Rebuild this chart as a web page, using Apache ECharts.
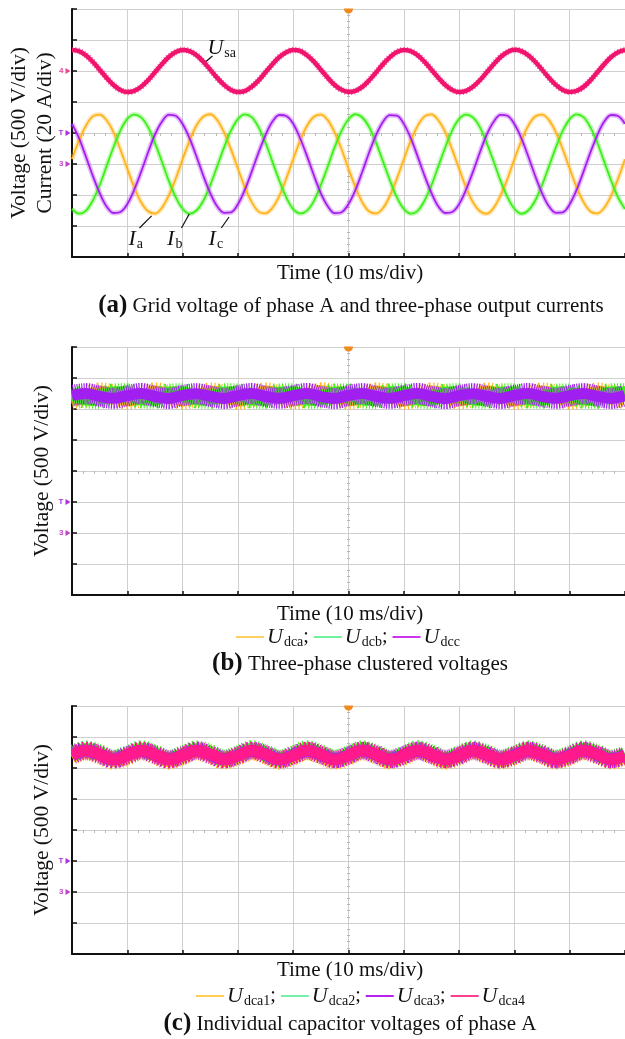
<!DOCTYPE html>
<html>
<head>
<meta charset="utf-8">
<script src="https://cdn.jsdelivr.net/npm/echarts@6/dist/echarts.min.js"></script>
<style>
html, body { margin: 0; padding: 0; background: #fff; }
#main { width: 625px; height: 1039px; }
</style>
</head>
<body>
<div id="main"></div>
<script>
// sample times (ms) for panel (a), 10 ms/div, 10 div on screen
var timesA = [0, 1.25, 2.5, 3.75, 5, 6.25, 7.5, 8.75, 10, 11.25, 12.5, 13.75, 15, 16.25, 17.5, 18.75,
  20, 21.25, 22.5, 23.75, 25, 26.25, 27.5, 28.75, 30, 31.25, 32.5, 33.75, 35, 36.25, 37.5, 38.75,
  40, 41.25, 42.5, 43.75, 45, 46.25, 47.5, 48.75, 50, 51.25, 52.5, 53.75, 55, 56.25, 57.5, 58.75,
  60, 61.25, 62.5, 63.75, 65, 66.25, 67.5, 68.75, 70, 71.25, 72.5, 73.75, 75, 76.25, 77.5, 78.75,
  80, 81.25, 82.5, 83.75, 85, 86.25, 87.5, 88.75, 90, 91.25, 92.5, 93.75, 95, 96.25, 97.5, 98.75, 100];
// sample times (ms) for panels (b) and (c)
var timesB = [0, 2.5, 5, 7.5, 10, 12.5, 15, 17.5, 20, 22.5, 25, 27.5, 30, 32.5, 35, 37.5, 40, 42.5, 45, 47.5,
  50, 52.5, 55, 57.5, 60, 62.5, 65, 67.5, 70, 72.5, 75, 77.5, 80, 82.5, 85, 87.5, 90, 92.5, 95, 97.5, 100];

// (a) grid voltage (V) and output currents (A)
var usa = [339, 322, 255, 150, 21, -110, -225, -305, -339, -322, -255, -150, -21, 110, 225, 305,
  340, 321, 256, 149, 22, -111, -224, -306, -338, -323, -254, -151, -20, 109, 226, 304,
  338, 323, 254, 151, 20, -109, -226, -304, -340, -321, -256, -149, -22, 111, 224, 306,
  339, 322, 255, 150, 21, -110, -225, -305, -339, -322, -255, -150, -21, 110, 225, 305,
  341, 321, 254, 150, 22, -110, -224, -305, -338, -322, -256, -151, -21, 111, 225, 304, 339];
var ia = [3.2, 15.0, 24.6, 30.7, 31.9, 28.2, 20.5, 9.3, -3.0, -15.1, -24.7, -30.5, -32.0, -28.3, -20.3, -9.5,
  3.0, 14.9, 24.8, 30.6, 32.1, 28.4, 20.4, 9.4, -2.9, -15.0, -24.6, -30.7, -31.8, -28.2, -20.5, -9.3,
  3.1, 15.1, 24.7, 30.5, 31.9, 28.3, 20.3, 9.5, -3.1, -14.9, -24.8, -30.6, -31.9, -28.4, -20.4, -9.4,
  2.9, 15.0, 24.6, 30.7, 32.0, 28.2, 20.5, 9.3, -3.0, -15.1, -24.7, -30.5, -32.1, -28.3, -20.3, -9.5,
  3.0, 14.9, 24.7, 30.6, 31.8, 28.3, 20.4, 9.4, -3.0, -15.0, -24.6, -30.6, -31.9, -28.2, -20.4, -9.4, 3.1];
var ib = [-29.0, -32.0, -30.2, -23.6, -13.7, -1.4, 10.8, 21.6, 29.1, 31.9, 30.1, 23.8, 13.5, 1.6, -10.9, -21.4,
  -28.9, -32.1, -30.0, -23.7, -13.6, -1.5, 10.7, 21.5, 29.0, 32.0, 30.2, 23.6, 13.7, 1.4, -10.8, -21.6,
  -29.1, -31.9, -30.1, -23.8, -13.5, -1.6, 10.9, 21.4, 28.9, 32.1, 30.0, 23.7, 13.6, 1.5, -10.7, -21.5,
  -29.0, -32.0, -30.2, -23.6, -13.7, -1.4, 10.8, 21.6, 29.1, 31.9, 30.1, 23.8, 13.5, 1.6, -10.9, -21.4,
  -28.9, -32.1, -30.0, -23.7, -13.6, -1.5, 10.7, 21.5, 29.0, 32.0, 30.2, 23.6, 13.7, 1.4, -10.8, -21.6, -29.0];
var ic = [25.9, 16.8, 4.9, -7.5, -18.7, -27.4, -31.6, -31.0, -25.9, -16.6, -5.1, 7.4, 18.9, 27.2, 31.7, 31.1,
  25.8, 16.7, 5.0, -7.6, -18.8, -27.3, -31.5, -31.2, -26.0, -16.7, -4.9, 7.5, 18.7, 27.4, 31.6, 31.0,
  26.0, 16.6, 5.1, -7.4, -18.9, -27.2, -31.7, -31.1, -25.8, -16.8, -5.0, 7.6, 18.8, 27.3, 31.5, 31.2,
  25.9, 16.8, 4.9, -7.5, -18.7, -27.4, -31.6, -31.0, -25.9, -16.6, -5.1, 7.4, 18.9, 27.2, 31.7, 31.1,
  25.8, 16.7, 5.0, -7.6, -18.8, -27.3, -31.5, -31.2, -26.0, -16.7, -4.9, 7.5, 18.7, 27.4, 31.6, 31.0, 25.9];

// (b) clustered voltages (V)
var udca = [2155, 2190, 2266, 2230, 2152, 2193, 2268, 2227, 2154, 2189, 2265, 2231, 2151, 2192, 2267, 2228,
  2156, 2190, 2269, 2229, 2153, 2191, 2266, 2232, 2152, 2188, 2268, 2230, 2155, 2193, 2265, 2227,
  2154, 2190, 2267, 2231, 2151, 2192, 2266, 2229, 2153];
var udcb = [2252, 2170, 2165, 2253, 2255, 2168, 2167, 2250, 2253, 2171, 2164, 2252, 2256, 2169, 2166, 2249,
  2254, 2167, 2168, 2251, 2252, 2170, 2165, 2253, 2255, 2168, 2163, 2250, 2253, 2171, 2166, 2252,
  2254, 2169, 2167, 2251, 2252, 2168, 2165, 2253, 2255];
var udcc = [2218, 2248, 2204, 2172, 2216, 2250, 2202, 2170, 2219, 2247, 2205, 2171, 2217, 2249, 2203, 2173,
  2215, 2251, 2201, 2170, 2218, 2248, 2204, 2172, 2216, 2250, 2203, 2169, 2217, 2247, 2205, 2171,
  2219, 2249, 2202, 2172, 2216, 2248, 2204, 2170, 2218];

// (c) capacitor voltages of phase A (V)
var udca1 = [2177, 2258, 2195, 2112, 2175, 2260, 2193, 2110, 2178, 2257, 2196, 2113, 2176, 2259, 2194, 2109,
  2174, 2261, 2192, 2111, 2177, 2258, 2195, 2112, 2175, 2260, 2193, 2110, 2178, 2259, 2196, 2113,
  2176, 2257, 2194, 2111, 2174, 2260, 2195, 2112, 2177];
var udca2 = [2227, 2308, 2245, 2162, 2225, 2310, 2243, 2160, 2228, 2307, 2246, 2163, 2226, 2309, 2244, 2159,
  2224, 2311, 2242, 2161, 2227, 2308, 2245, 2162, 2225, 2310, 2243, 2160, 2228, 2309, 2246, 2163,
  2226, 2307, 2244, 2161, 2224, 2310, 2245, 2162, 2227];
var udca3 = [2204, 2281, 2216, 2139, 2206, 2279, 2214, 2141, 2205, 2282, 2215, 2140, 2203, 2280, 2217, 2138,
  2206, 2279, 2214, 2141, 2204, 2281, 2216, 2139, 2205, 2280, 2215, 2142, 2203, 2282, 2214, 2140,
  2206, 2279, 2216, 2139, 2204, 2281, 2215, 2141, 2205];
var udca4 = [2201, 2284, 2221, 2136, 2199, 2286, 2219, 2134, 2202, 2283, 2222, 2135, 2200, 2285, 2220, 2137,
  2198, 2286, 2219, 2134, 2201, 2284, 2221, 2136, 2199, 2285, 2220, 2135, 2202, 2283, 2219, 2137,
  2200, 2286, 2221, 2134, 2198, 2284, 2220, 2136, 2201];

var SERIF = '"Liberation Serif", "Times New Roman", serif';

function pairs(ts, vals) {
  return ts.map(function (t, i) { return [t, vals[i]]; });
}

// one trace; type can be 'solid' or a dash array (used for the switching noise fuzz)
function wave(name, ts, vals, xi, yi, color, width, type, opacity, z) {
  return {
    name: name, type: 'line', xAxisIndex: xi, yAxisIndex: yi,
    data: pairs(ts, vals), symbol: 'none', showSymbol: false, smooth: 0.35,
    lineStyle: { color: color, width: width, type: type || 'solid', opacity: opacity == null ? 1 : opacity, cap: 'butt' },
    itemStyle: { color: color },
    silent: true, animation: false, z: z || 2
  };
}

var subRich = {
  u: { fontFamily: SERIF, fontStyle: 'italic', fontSize: 22, color: '#111' },
  s: { fontFamily: SERIF, fontSize: 14, color: '#111', padding: [10, 0, 0, 1] },
  p: { fontFamily: SERIF, fontSize: 20, color: '#111' }
};

function chMark(label, value, color) {
  return {
    coord: [0, value], symbol: 'triangle', symbolRotate: -90, symbolSize: [6, 5], symbolOffset: [-4, 0],
    itemStyle: { color: color },
    label: { show: true, position: 'left', distance: 2, formatter: label, fontSize: 8, fontWeight: 'bold', color: color }
  };
}
function trigMark(value) {
  return {
    coord: [50, value], symbol: 'path://M0,0 L20,0 C20,14 0,14 0,0 Z', symbolSize: [9, 5], symbolOffset: [0, 2],
    itemStyle: { color: '#f08a1c' }, label: { show: false }
  };
}
function textMark(x, y, text) {
  return {
    coord: [x, y], symbol: 'circle', symbolSize: 0,
    label: { show: true, position: 'right', distance: 0, formatter: text, rich: subRich }
  };
}

var grids = [
  { left: 72, top: 9, width: 556, height: 248 },
  { left: 72, top: 347, width: 556, height: 248 },
  { left: 72, top: 706, width: 556, height: 248 }
];

var xAxes = [];
var yAxes = [];
grids.forEach(function (g, gi) {
  xAxes.push({
    type: 'value', gridIndex: gi, min: 0, max: 100, interval: 10,
    axisLine: { onZero: false, lineStyle: { color: '#111', width: 2 } },
    axisTick: { inside: true, length: 4, lineStyle: { color: '#111', width: 1.5 } },
    axisLabel: { show: false },
    splitLine: { lineStyle: { color: '#cfcfcf', width: 1 } }
  });
});
grids.forEach(function (g, gi) {
  // centre line minor ticks
  xAxes.push({
    type: 'value', gridIndex: gi, min: 0, max: 100, interval: 10, position: 'bottom', offset: -124,
    axisLine: { show: false, onZero: false }, axisTick: { show: false }, axisLabel: { show: false }, splitLine: { show: false },
    minorTick: { show: true, splitNumber: 5, length: 3, lineStyle: { color: '#b8b8b8' } }
  });
});
var mainY = {
  type: 'value', interval: 500,
  axisLine: { show: true, onZero: false, lineStyle: { color: '#111', width: 2 } },
  axisTick: { show: true, inside: true, length: 5, lineStyle: { color: '#111', width: 1.5 } },
  axisLabel: { show: false },
  splitLine: { lineStyle: { color: '#cfcfcf', width: 1 } }
};
yAxes.push(Object.assign({}, mainY, { gridIndex: 0, min: -3000, max: 1000 }));
yAxes.push({ type: 'value', gridIndex: 0, min: -60, max: 100, interval: 20, show: false });
yAxes.push(Object.assign({}, mainY, { gridIndex: 1, min: -1000, max: 3000 }));
yAxes.push(Object.assign({}, mainY, { gridIndex: 2, min: -1000, max: 3000 }));
grids.forEach(function (g, gi) {
  yAxes.push({
    type: 'value', gridIndex: gi, min: 0, max: 8, interval: 1, position: 'left', offset: -278,
    axisLine: { show: false, onZero: false }, axisTick: { show: false }, axisLabel: { show: false }, splitLine: { show: false },
    minorTick: { show: true, splitNumber: 5, length: 3, lineStyle: { color: '#b8b8b8' } }
  });
});

var cUsa = '#f0146e', cIa = '#ffb41e', cIb = '#3ef01a', cIc = '#a51ef0', cPink = '#ff1a8c';
var fuzz = [1, 2];

var sUsa = wave('Usa', timesA, usa, 0, 0, cUsa, 4.5, 'solid', 1, 5);
sUsa.markPoint = {
  silent: true, animation: false,
  data: [chMark('4', 0, '#e8449a'), trigMark(1000), textMark(24.5, 371, '{u|U}{s|sa}')]
};
sUsa.markLine = {
  silent: true, animation: false, symbol: ['none', 'none'], label: { show: false },
  lineStyle: { color: '#111', width: 1.2, type: 'solid' },
  data: [[{ coord: [23.7, 113] }, { coord: [25.4, 242] }]]
};

var sIa = wave('Ia', timesA, ia, 0, 1, cIa, 1.8, 'solid', 1, 4);
sIa.markPoint = {
  silent: true, animation: false,
  data: [chMark('T', 20, '#b030e0'), chMark('3', 0, '#c040c8'),
    textMark(10.2, -48.4, '{u|I}{s|a}'), textMark(17.2, -48.4, '{u|I}{s|b}'), textMark(24.7, -48.4, '{u|I}{s|c}')]
};
sIa.markLine = {
  silent: true, animation: false, symbol: ['none', 'none'], label: { show: false },
  lineStyle: { color: '#111', width: 1.2, type: 'solid' },
  data: [
    [{ coord: [12.2, -41.3] }, { coord: [14.4, -33.5] }],
    [{ coord: [19.8, -41.3] }, { coord: [21.2, -32.3] }],
    [{ coord: [27.0, -41.3] }, { coord: [28.4, -34.2] }]
  ]
};

var sUdcc = wave('Udcc', timesB, udcc, 1, 2, '#a020f0', 11, 'solid', 1, 6);
sUdcc.markPoint = { silent: true, animation: false, data: [chMark('T', 500, '#b030e0'), chMark('3', 0, '#c040c8'), trigMark(3000)] };
var sUdca4 = wave('Udca4', timesB, udca4, 2, 3, cPink, 11, 'solid', 1, 8);
sUdca4.markPoint = { silent: true, animation: false, data: [chMark('T', 500, '#b030e0'), chMark('3', 0, '#c040c8'), trigMark(3000)] };

var series = [
  // (a)
  wave('Ia fuzz', timesA, ia, 0, 1, cIa, 5, 'solid', 0.3, 2),
  wave('Ib fuzz', timesA, ib, 0, 1, cIb, 5, 'solid', 0.3, 2),
  wave('Ic fuzz', timesA, ic, 0, 1, cIc, 5, 'solid', 0.3, 2),
  sIa,
  wave('Ib', timesA, ib, 0, 1, cIb, 1.8, 'solid', 1, 4),
  wave('Ic', timesA, ic, 0, 1, cIc, 1.8, 'solid', 1, 4),
  wave('Usa fuzz', timesA, usa, 0, 0, cUsa, 6.5, fuzz, 0.6, 5),
  sUsa,
  // (b)
  wave('Udca', timesB, udca, 1, 2, cIa, 14, 'solid', 1, 2),
  wave('Udca fuzz', timesB, udca, 1, 2, cIa, 20, fuzz, 1, 2),
  wave('Udcb', timesB, udcb, 1, 2, cIb, 14, 'solid', 1, 3),
  wave('Udcb fuzz', timesB, udcb, 1, 2, cIb, 20, fuzz, 1, 3),
  sUdcc,
  wave('Udcc fuzz', timesB, udcc, 1, 2, '#a020f0', 21, [1, 1], 1, 6),
  // (c)
  wave('Udca1', timesB, udca1, 2, 3, cIa, 12, 'solid', 1, 2),
  wave('Udca1 fuzz', timesB, udca1, 2, 3, cIa, 17, fuzz, 1, 2),
  wave('Udca2', timesB, udca2, 2, 3, cIb, 12, 'solid', 1, 3),
  wave('Udca2 fuzz', timesB, udca2, 2, 3, cIb, 17, fuzz, 1, 3),
  wave('Udca3', timesB, udca3, 2, 3, cIc, 12, 'solid', 1, 4),
  wave('Udca3 fuzz', timesB, udca3, 2, 3, cIc, 18, fuzz, 1, 4),
  sUdca4,
  wave('Udca4 fuzz', timesB, udca4, 2, 3, cPink, 17, [1, 1.5], 1, 8)
];

var legendText = {
  Udca: '{u|U}{s|dca}{p|;}', Udcb: '{u|U}{s|dcb}{p|;}', Udcc: '{u|U}{s|dcc}',
  Udca1: '{u|U}{s|dca1}{p|;}', Udca2: '{u|U}{s|dca2}{p|;}', Udca3: '{u|U}{s|dca3}{p|;}', Udca4: '{u|U}{s|dca4}'
};
function legend(top, left, items) {
  return {
    top: top, left: left, icon: 'rect', itemWidth: 28, itemHeight: 2, itemGap: 5,
    selectedMode: false, padding: 0,
    data: items.map(function (it) { return { name: it[0], itemStyle: { color: it[1] } }; }),
    formatter: function (n) { return legendText[n]; },
    textStyle: { fontFamily: SERIF, fontSize: 20, color: '#111', padding: [0, 0, 0, -2], rich: subRich }
  };
}

function label(x, y, text, size, rot, rich) {
  return {
    type: 'text', x: x, y: y, rotation: rot || 0, silent: true,
    style: {
      text: text, fontFamily: SERIF, fontSize: size, fill: '#111',
      align: 'center', verticalAlign: 'middle', rich: rich || {}
    }
  };
}
// masks the thick band ends that spill past the left axis
function edgeMask(top, h) {
  return { type: 'rect', z: 100, silent: true, shape: { x: 58, y: top, width: 13, height: h }, style: { fill: '#fff' } };
}
var capRich = { b: { fontFamily: SERIF, fontWeight: 'bold', fontSize: 25, fill: '#111', color: '#111' } };

var option = {
  backgroundColor: '#fff',
  animation: false,
  grid: grids,
  xAxis: xAxes,
  yAxis: yAxes,
  legend: [
    legend(626, 236, [['Udca', '#ffd060'], ['Udcb', '#70f0a0'], ['Udcc', '#cc33ee']]),
    legend(985, 196, [['Udca1', '#ffcc55'], ['Udca2', '#77f0a8'], ['Udca3', '#bb22ee'], ['Udca4', '#ff3f8f']])
  ],
  series: series,
  graphic: [
    edgeMask(378, 36),
    edgeMask(736, 38),
    label(19, 133, 'Voltage (500 V/div)', 21.5, Math.PI / 2),
    label(45, 133, 'Current (20 A/div)', 21.5, Math.PI / 2),
    label(350, 273, 'Time (10 ms/div)', 21),
    label(351, 306, '{b|(a)} Grid voltage of phase A and three-phase output currents', 21, 0, capRich),
    label(42, 471, 'Voltage (500 V/div)', 21.5, Math.PI / 2),
    label(350, 614, 'Time (10 ms/div)', 21),
    label(360, 664, '{b|(b)} Three-phase clustered voltages', 21, 0, capRich),
    label(42, 830, 'Voltage (500 V/div)', 21.5, Math.PI / 2),
    label(350, 970, 'Time (10 ms/div)', 21),
    label(350, 1024, '{b|(c)} Individual capacitor voltages of phase A', 21, 0, capRich)
  ]
};

var chart = echarts.init(document.getElementById('main'), null, { renderer: 'canvas' });
chart.setOption(option);
</script>
</body>
</html>
